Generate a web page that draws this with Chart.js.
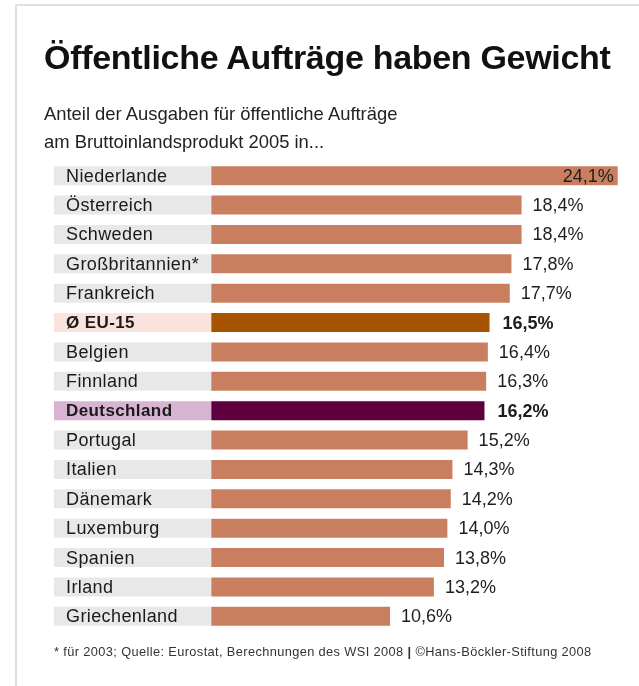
<!DOCTYPE html>
<html>
<head>
<meta charset="utf-8">
<script src="https://cdn.jsdelivr.net/npm/chart.js@4/dist/chart.umd.min.js"></script>
<style>
  html, body { margin: 0; padding: 0; background: #fff; }
  #wrap { position: relative; width: 639px; height: 686px; overflow: hidden;
          font-family: "Liberation Sans", Arial, Helvetica, sans-serif; }
  #frame { position: absolute; left: 15px; top: 4px; width: 700px; height: 800px;
           border-top: 2px solid #e0e0e0; border-left: 2px solid #e0e0e0; }
  #chart { position: absolute; left: 0; top: 0; }
  #title { position: absolute; left: 44px; top: 36.7px; font-size: 34px; line-height: 40px;
           font-weight: bold; color: #111; letter-spacing: -0.3px; white-space: nowrap; }
  #sub { position: absolute; left: 44px; top: 99.7px; font-size: 18.4px; line-height: 28px;
         color: #222; white-space: nowrap; }
  #foot { position: absolute; left: 54px; top: 644.2px; font-size: 12.8px; line-height: 15px;
          color: #333; white-space: nowrap; letter-spacing: 0.38px; }
</style>
</head>
<body>
<div id="wrap">
  <div id="frame"></div>
  <canvas id="chart" width="639" height="686"></canvas>
  <div id="title">Öffentliche Aufträge haben Gewicht</div>
  <div id="sub">Anteil der Ausgaben für öffentliche Aufträge<br>am Bruttoinlandsprodukt 2005 in...</div>
  <div id="foot">* für 2003; Quelle: Eurostat, Berechnungen des WSI 2008 <b>|</b> ©Hans-Böckler-Stiftung 2008</div>
</div>
<script>
const categories = ['Niederlande', 'Österreich', 'Schweden', 'Großbritannien*', 'Frankreich',
  'Ø EU-15', 'Belgien', 'Finnland', 'Deutschland', 'Portugal', 'Italien', 'Dänemark',
  'Luxemburg', 'Spanien', 'Irland', 'Griechenland'];
const values = [24.1, 18.4, 18.4, 17.8, 17.7, 16.5, 16.4, 16.3, 16.2, 15.2, 14.3, 14.2,
  14.0, 13.8, 13.2, 10.6];
const rowTypes = ['normal', 'normal', 'normal', 'normal', 'normal', 'avg', 'normal', 'normal',
  'de', 'normal', 'normal', 'normal', 'normal', 'normal', 'normal', 'normal'];

const barColors = { normal: '#c97f5f', avg: '#a65400', de: '#5e0040' };
const labelBgColors = { normal: '#e8e8e8', avg: '#fae3dc', de: '#d9b3d2' };
const X_MIN = -9.33, X_MAX = 24.83;
const FONT = '"Liberation Sans", Arial, Helvetica, sans-serif';

const fmt = v => v.toFixed(1).replace('.', ',') + '%';

const spacingPlugin = {
  id: 'spacing',
  beforeLayout(chart) { chart.ctx.letterSpacing = '0.4px'; },
  beforeDraw(chart) { chart.ctx.letterSpacing = '0.4px'; }
};

const valueLabels = {
  id: 'valueLabels',
  afterDatasetsDraw(chart) {
    const ctx = chart.ctx;
    const meta = chart.getDatasetMeta(1);
    ctx.save();
    ctx.letterSpacing = '0px';
    meta.data.forEach((el, i) => {
      const bold = rowTypes[i] !== 'normal';
      ctx.font = (bold ? 'bold ' : '') + '18px ' + FONT;
      const txt = fmt(values[i]);
      const w = ctx.measureText(txt).width;
      ctx.fillStyle = '#1e1e1e';
      ctx.textBaseline = 'middle';
      if (el.x + 12 + w > chart.width - 4) {
        ctx.textAlign = 'right';
        ctx.fillText(txt, el.x - 4, el.y + 1);
      } else {
        ctx.textAlign = 'left';
        ctx.fillText(txt, el.x + (bold ? 13 : 11), el.y + 1);
      }
    });
    ctx.restore();
  }
};

new Chart(document.getElementById('chart'), {
  type: 'bar',
  data: {
    labels: categories,
    datasets: [
      {
        data: categories.map(() => [X_MIN, 0]),
        backgroundColor: rowTypes.map(t => labelBgColors[t]),
        grouped: false, categoryPercentage: 1, barPercentage: 0.65, borderWidth: 0, order: 2
      },
      {
        data: values,
        backgroundColor: rowTypes.map(t => barColors[t]),
        grouped: false, categoryPercentage: 1, barPercentage: 0.65, borderWidth: 0, order: 1
      }
    ]
  },
  options: {
    indexAxis: 'y',
    responsive: false,
    animation: false,
    devicePixelRatio: 1,
    layout: { padding: { left: 30, right: 9, top: 161, bottom: 55 } },
    plugins: { legend: { display: false }, tooltip: { enabled: false }, title: { display: false } },
    scales: {
      x: { type: 'linear', min: X_MIN, max: X_MAX, display: false },
      y: {
        type: 'category',
        offset: true,
        grid: { display: false, drawTicks: false },
        border: { display: false },
        ticks: {
          mirror: true, padding: 12, z: 1, autoSkip: false, color: '#1a1a1a', labelOffset: 1,
          font: ctx => {
            const bold = rowTypes[ctx.index] !== 'normal';
            return { family: FONT, size: bold ? 17 : 18, weight: bold ? 'bold' : 'normal' };
          }
        }
      }
    }
  },
  plugins: [spacingPlugin, valueLabels]
});
</script>
</body>
</html>
